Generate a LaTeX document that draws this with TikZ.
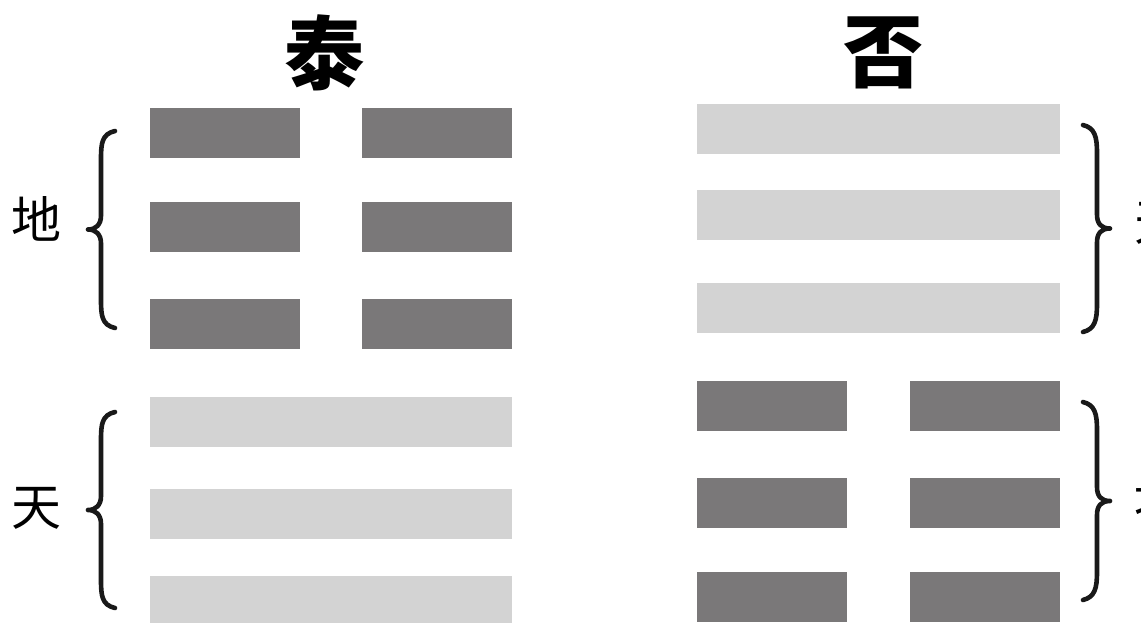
\documentclass[tikz,border=0pt]{standalone}
\usepackage{fontspec}
\newfontfamily\cjk{Noto Sans CJK SC}
\definecolor{yin}{RGB}{122,120,121}
\definecolor{yang}{RGB}{211,211,211}
\tikzset{
  yinbar/.style={fill=yin},
  yangbar/.style={fill=yang},
  title/.style={inner sep=0pt, font=\cjk\bfseries\fontsize{80}{80}\selectfont},
  side/.style={inner sep=0pt, font=\cjk\fontsize{50}{50}\selectfont},
  bracestroke/.style={line width=4.6pt, line cap=round, line join=round, black!90}
}
\newcommand{\leftbrace}[3]{% top, bottom, tip-x
  \pgfmathsetmacro{\ym}{(#1+#2)/2}
  \draw[bracestroke] (115,#1) .. controls (102,#1+3) and (101,#1+12) .. (101,#1+28)
    -- (101,\ym-14) .. controls (101,\ym-5) and (96,\ym) .. (#3,\ym)
    .. controls (96,\ym) and (101,\ym+5) .. (101,\ym+14)
    -- (101,#2-28) .. controls (101,#2-12) and (102,#2-3) .. (115,#2);
}
\newcommand{\rightbrace}[3]{% top, bottom, tip-x
  \pgfmathsetmacro{\ym}{(#1+#2)/2}
  \draw[bracestroke] (1083,#1) .. controls (1095,#1+3) and (1097,#1+12) .. (1097,#1+28)
    -- (1097,\ym-14) .. controls (1097,\ym-5) and (1101,\ym) .. (#3,\ym)
    .. controls (1101,\ym) and (1097,\ym+5) .. (1097,\ym+14)
    -- (1097,#2-28) .. controls (1097,#2-12) and (1095,#2-3) .. (1083,#2);
}
\begin{document}
\begin{tikzpicture}[x=1pt,y=-1pt]
\useasboundingbox (0,0) rectangle (1141,622);
\fill[white] (0,0) rectangle (1141,622);

% Tai (left)
\foreach \y in {108,202,299} {
  \fill[yinbar] (150,\y) rectangle (300,\y+50);
  \fill[yinbar] (362,\y) rectangle (512,\y+50);
}
\foreach \y in {397,489,576} {
  \fill[yangbar] (150,\y) rectangle (512,\y+50);
}

% Pi (right)
\foreach \y in {104,190,283} {
  \fill[yangbar] (697,\y) rectangle (1060,\y+50);
}
\foreach \y in {381,478,572} {
  \fill[yinbar] (697,\y) rectangle (847,\y+50);
  \fill[yinbar] (910,\y) rectangle (1060,\y+50);
}

\node[title] (tai) at (324,53) {泰};
\node[title] (pi) at (883,53) {否};

\node[side] (di1) at (37,219) {地};
\node[side] (tian1) at (37,508) {天};
\node[side, anchor=west] (tian2) at (1134,223) {天};
\node[side, anchor=west] (di2) at (1134,499) {地};

\leftbrace{131}{328}{88}
\leftbrace{412}{608}{88}
\rightbrace{125}{332}{1110}
\rightbrace{402}{600}{1110}
\end{tikzpicture}
\end{document}
